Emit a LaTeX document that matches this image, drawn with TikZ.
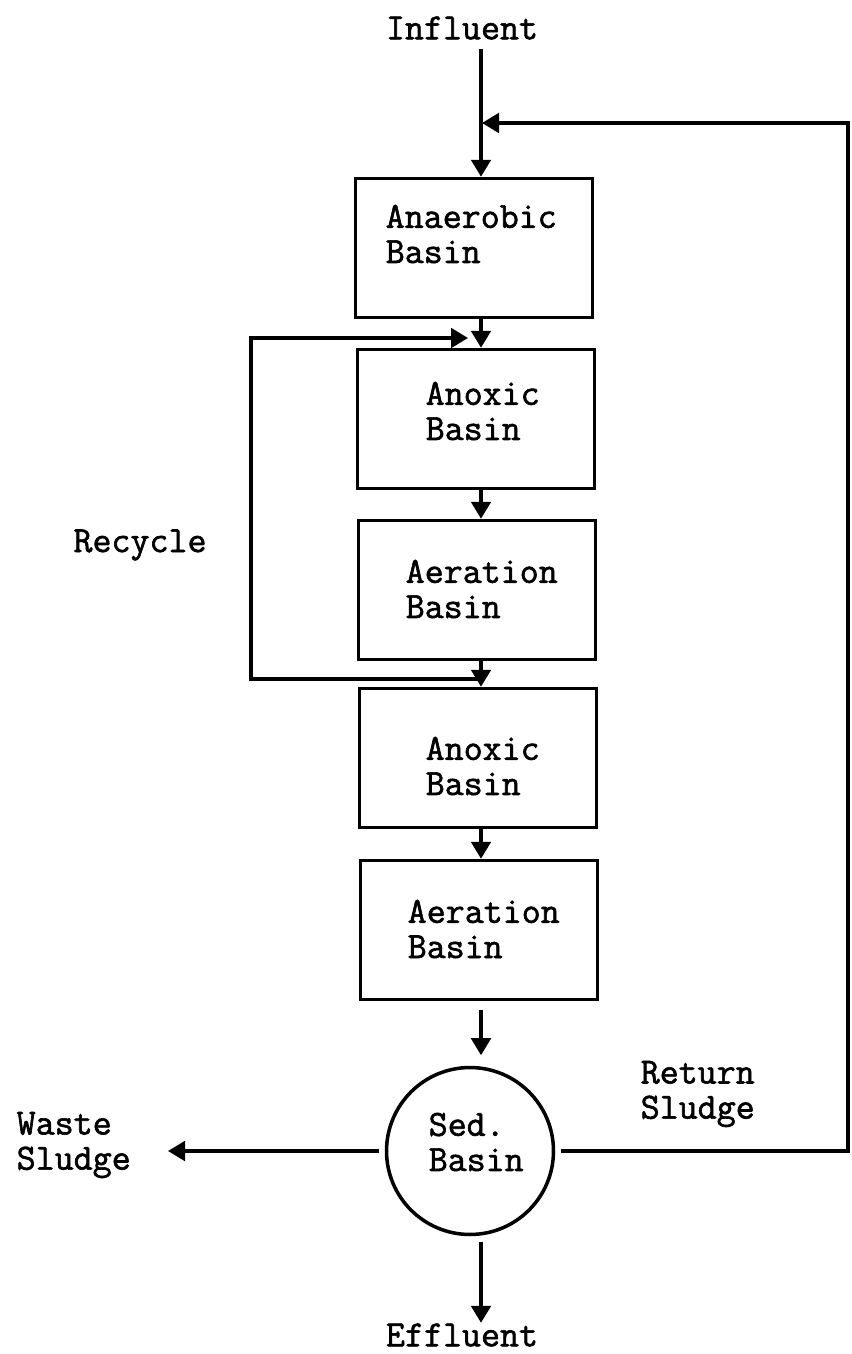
\documentclass[tikz,border=0pt]{standalone}
\usepackage{fontspec}
\newfontfamily\typefont{Latin Modern Mono}[FakeBold=1.6]
\usetikzlibrary{positioning, arrows.meta, calc}
\tikzset{every picture/.append style={thick}}
\tikzset{
  basin/.style={draw, line width=2pt, minimum width=4.74cm, minimum height=2.78cm, inner sep=0pt},
  tank/.style={draw, circle, line width=2pt, minimum size=3.34cm, inner sep=0pt, outer sep=4pt},
  lbl/.style={font=\typefont\fontsize{21}{20}\selectfont, align=left, inner sep=0pt},
  flow/.style={line width=2pt, ->},
}

\begin{document}
\begin{tikzpicture}[x=0.02cm, y=-0.02cm, >={Triangle[length=3.4mm, width=3.9mm]}]
    \useasboundingbox (0,0) rectangle (851,1354);

    % --- BASINS ---
    \node[basin] (anaer) at (474,248) {};
    \node[basin] (anoxA) at (476,419) {};
    \node[basin] (aerA)  at (477,590) {};
    \node[basin] (anoxB) at (478,758) {};
    \node[basin] (aerB)  at (479,930) {};
    \node[tank]  (sed)   at (470,1151) {};

    % --- LABELS ---
    \node[lbl] (infl) at (462,28) {Influent};
    \node[lbl, anchor=west] (anaerTxt) at (385,234) {Anaerobic\\Basin};
    \node[lbl, anchor=west] (anoxATxt) at (425,411) {Anoxic\\Basin};
    \node[lbl, anchor=west] (aerATxt)  at (405,589) {Aeration\\Basin};
    \node[lbl, anchor=west] (anoxBTxt) at (425,766) {Anoxic\\Basin};
    \node[lbl, anchor=west] (aerBTxt)  at (407,929) {Aeration\\Basin};
    \node[lbl, anchor=west] (sedTxt)   at (428,1142) {Sed.\\Basin};
    \node[lbl] (recyc) at (140,545) {Recycle};
    \node[lbl, anchor=west] (waste) at (16,1145) {Waste\\Sludge};
    \node[lbl, anchor=west] (retsl) at (640,1094) {Return\\Sludge};
    \node[lbl] (effl) at (462,1335) {Effluent};

    % --- JUNCTIONS ---
    \coordinate (col) at (481,0);
    \coordinate (retJoin) at (482,123);
    \coordinate (rsEdge) at (848,1151);
    \coordinate (wasteTip) at (168,1151);
    \coordinate (recBot) at (251,679);
    \coordinate (recTop) at (251,338);
    \coordinate (recIn) at (468,338);

    % Main flow
    \draw[flow, shorten <=5pt] (col |- infl.south) -- (col |- anaer.north);
    \draw[flow] (col |- anaer.south) -- (col |- anoxA.north);
    \draw[flow] (col |- anoxA.south) -- (col |- aerA.north);
    \draw[flow] (col |- aerA.south) -- (col |- anoxB.north);
    \draw[flow] (col |- anoxB.south) -- (col |- aerB.north);
    \draw[flow, shorten <=5pt, shorten >=3pt] (col |- aerB.south) -- (col |- sed.north);
    \draw[flow] (col |- sed.south) -- (col |- effl.north);

    % Recycle loop
    \draw[flow] (col |- recBot) -- (recBot) -- (recTop) -- (recIn);

    % Sludge lines
    \draw[flow] (sed.west) -- (wasteTip);
    \draw[flow] (sed.east) -- (rsEdge) |- (retJoin);
\end{tikzpicture}
\end{document}
